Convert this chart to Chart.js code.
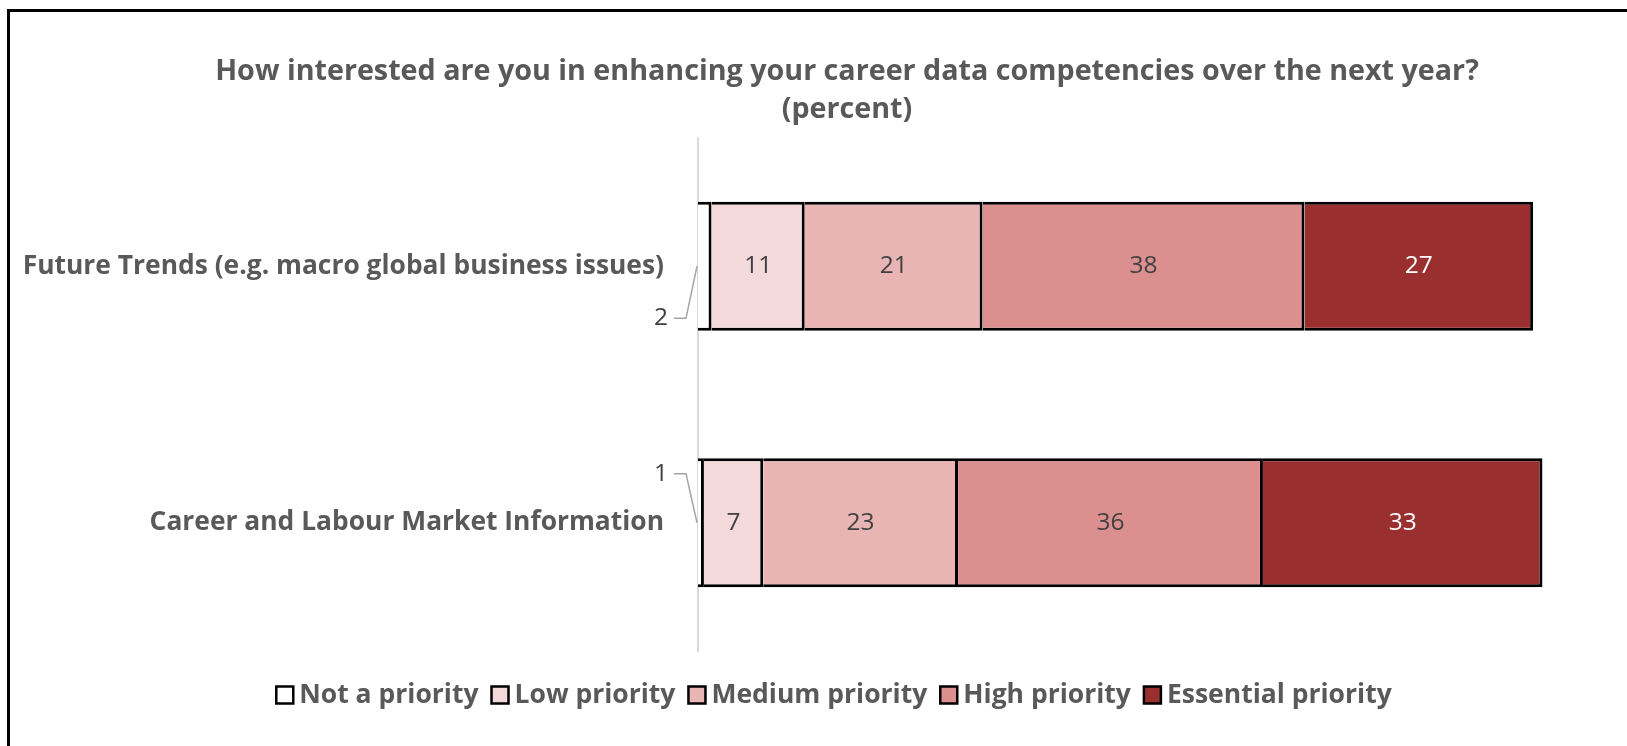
<!DOCTYPE html>
<html><head><meta charset="utf-8">
<script src="https://cdn.jsdelivr.net/npm/chart.js@4/dist/chart.umd.min.js"></script>
<style>
html,body{margin:0;padding:0;background:#fff;}
#wrap{position:relative;width:1627px;height:746px;overflow:hidden;}
#frame{position:absolute;left:7px;top:9px;width:1700px;height:800px;border-left:3px solid #000;border-top:3px solid #000;pointer-events:none;}
canvas{position:absolute;left:0;top:0;}
</style></head><body>
<div id="wrap"><canvas id="c" width="1627" height="746"></canvas><div id="frame"></div></div>
<script>
const categories = ['Future Trends (e.g. macro global business issues)', 'Career and Labour Market Information'];
const seriesNames = ['Not a priority', 'Low priority', 'Medium priority', 'High priority', 'Essential priority'];
const notPriority = [1.6, 0.7];
const lowPriority = [11, 7];
const mediumPriority = [21, 23];
const highPriority = [38, 36];
const essentialPriority = [27, 33];
const titleLines = ['How interested are you in enhancing your career data competencies over the next year?', '(percent)'];
const xMin = 0, xMax = 100;

const colors = ['#FFFFFF', '#F3D9DA', '#E8B5B4', '#DC8F8F', '#992F2F'];
const labelColors = ['#404040', '#404040', '#404040', '#404040', '#FFFFFF'];
const seriesData = [notPriority, lowPriority, mediumPriority, highPriority, essentialPriority];
const TEXT = '#595959';

const datasets = seriesNames.map((n, i) => ({
  label: n,
  data: seriesData[i],
  backgroundColor: colors[i],
  borderColor: '#000000',
  borderWidth: 3,
  categoryPercentage: 1,
  barPercentage: 0.503
}));

const labelPlugin = {
  id: 'labels',
  afterDatasetsDraw(chart) {
    const ctx = chart.ctx;
    const xs = chart.scales.x;
    const x0 = xs.getPixelForValue(0);
    ctx.save();
    chart.data.datasets.forEach((ds, di) => {
      const meta = chart.getDatasetMeta(di);
      meta.data.forEach((el, i) => {
        const p = el.getProps(['x', 'y', 'base'], true);
        const v = ds.data[i];
        const txt = String(Math.round(v));
        ctx.font = '24.5px "Open Sans"';
        ctx.fillStyle = labelColors[di];
        ctx.textBaseline = 'middle';
        if (di === 0) {
          const off = i === 0 ? 52 : -49;
          const ly = p.y + off;
          ctx.textAlign = 'right';
          ctx.fillText(txt, x0 - 30, ly);
          ctx.strokeStyle = '#A6A6A6';
          ctx.lineWidth = 1.5;
          ctx.beginPath();
          ctx.moveTo(x0 - 24, ly);
          ctx.lineTo(x0 - 12, ly);
          ctx.lineTo(x0 - 1, p.y);
          ctx.stroke();
        } else {
          ctx.textAlign = 'center';
          ctx.fillText(txt, (p.x + p.base) / 2, p.y);
        }
      });
    });
    ctx.restore();
  },
  afterDraw(chart) {
    const ctx = chart.ctx;
    ctx.save();
    ctx.fillStyle = TEXT;
    ctx.textAlign = 'center';
    ctx.textBaseline = 'middle';
    ctx.font = 'bold 28.7px "Open Sans"';
    ctx.fillText(titleLines[0], 847, 72);
    ctx.fillText(titleLines[1], 847, 110);
    // legend
    ctx.font = 'bold 26.5px "Open Sans"';
    const box = 17, gapBT = 6, gapItem = 13;
    const widths = seriesNames.map(n => ctx.measureText(n).width);
    const total = widths.reduce((a, w) => a + box + gapBT + w, 0) + gapItem * (seriesNames.length - 1);
    let x = 834 - total / 2;
    const cy = 695;
    ctx.textAlign = 'left';
    seriesNames.forEach((n, i) => {
      ctx.fillStyle = colors[i];
      ctx.fillRect(x, cy - box / 2, box, box);
      ctx.strokeStyle = '#000';
      ctx.lineWidth = 2.5;
      ctx.strokeRect(x, cy - box / 2, box, box);
      ctx.fillStyle = TEXT;
      ctx.fillText(n, x + box + gapBT, cy);
      x += box + gapBT + widths[i] + gapItem;
    });
    ctx.restore();
  }
};

new Chart(document.getElementById('c'), {
  type: 'bar',
  data: { labels: categories, datasets },
  options: {
    responsive: false,
    animation: false,
    indexAxis: 'y',
    layout: { padding: { top: 138, bottom: 95, left: 0, right: 82 } },
    plugins: { legend: { display: false }, title: { display: false }, tooltip: { enabled: false } },
    scales: {
      x: { stacked: true, display: false, min: xMin, max: xMax },
      y: {
        stacked: true,
        grid: { display: false },
        border: { display: true, color: '#D9D9D9', width: 2 },
        ticks: { color: TEXT, font: { family: 'Open Sans', weight: 'bold', size: 26.4 }, padding: 26 },
        afterFit(s) { s.width = 698; }
      }
    }
  },
  plugins: [labelPlugin]
});
</script>
</body></html>
